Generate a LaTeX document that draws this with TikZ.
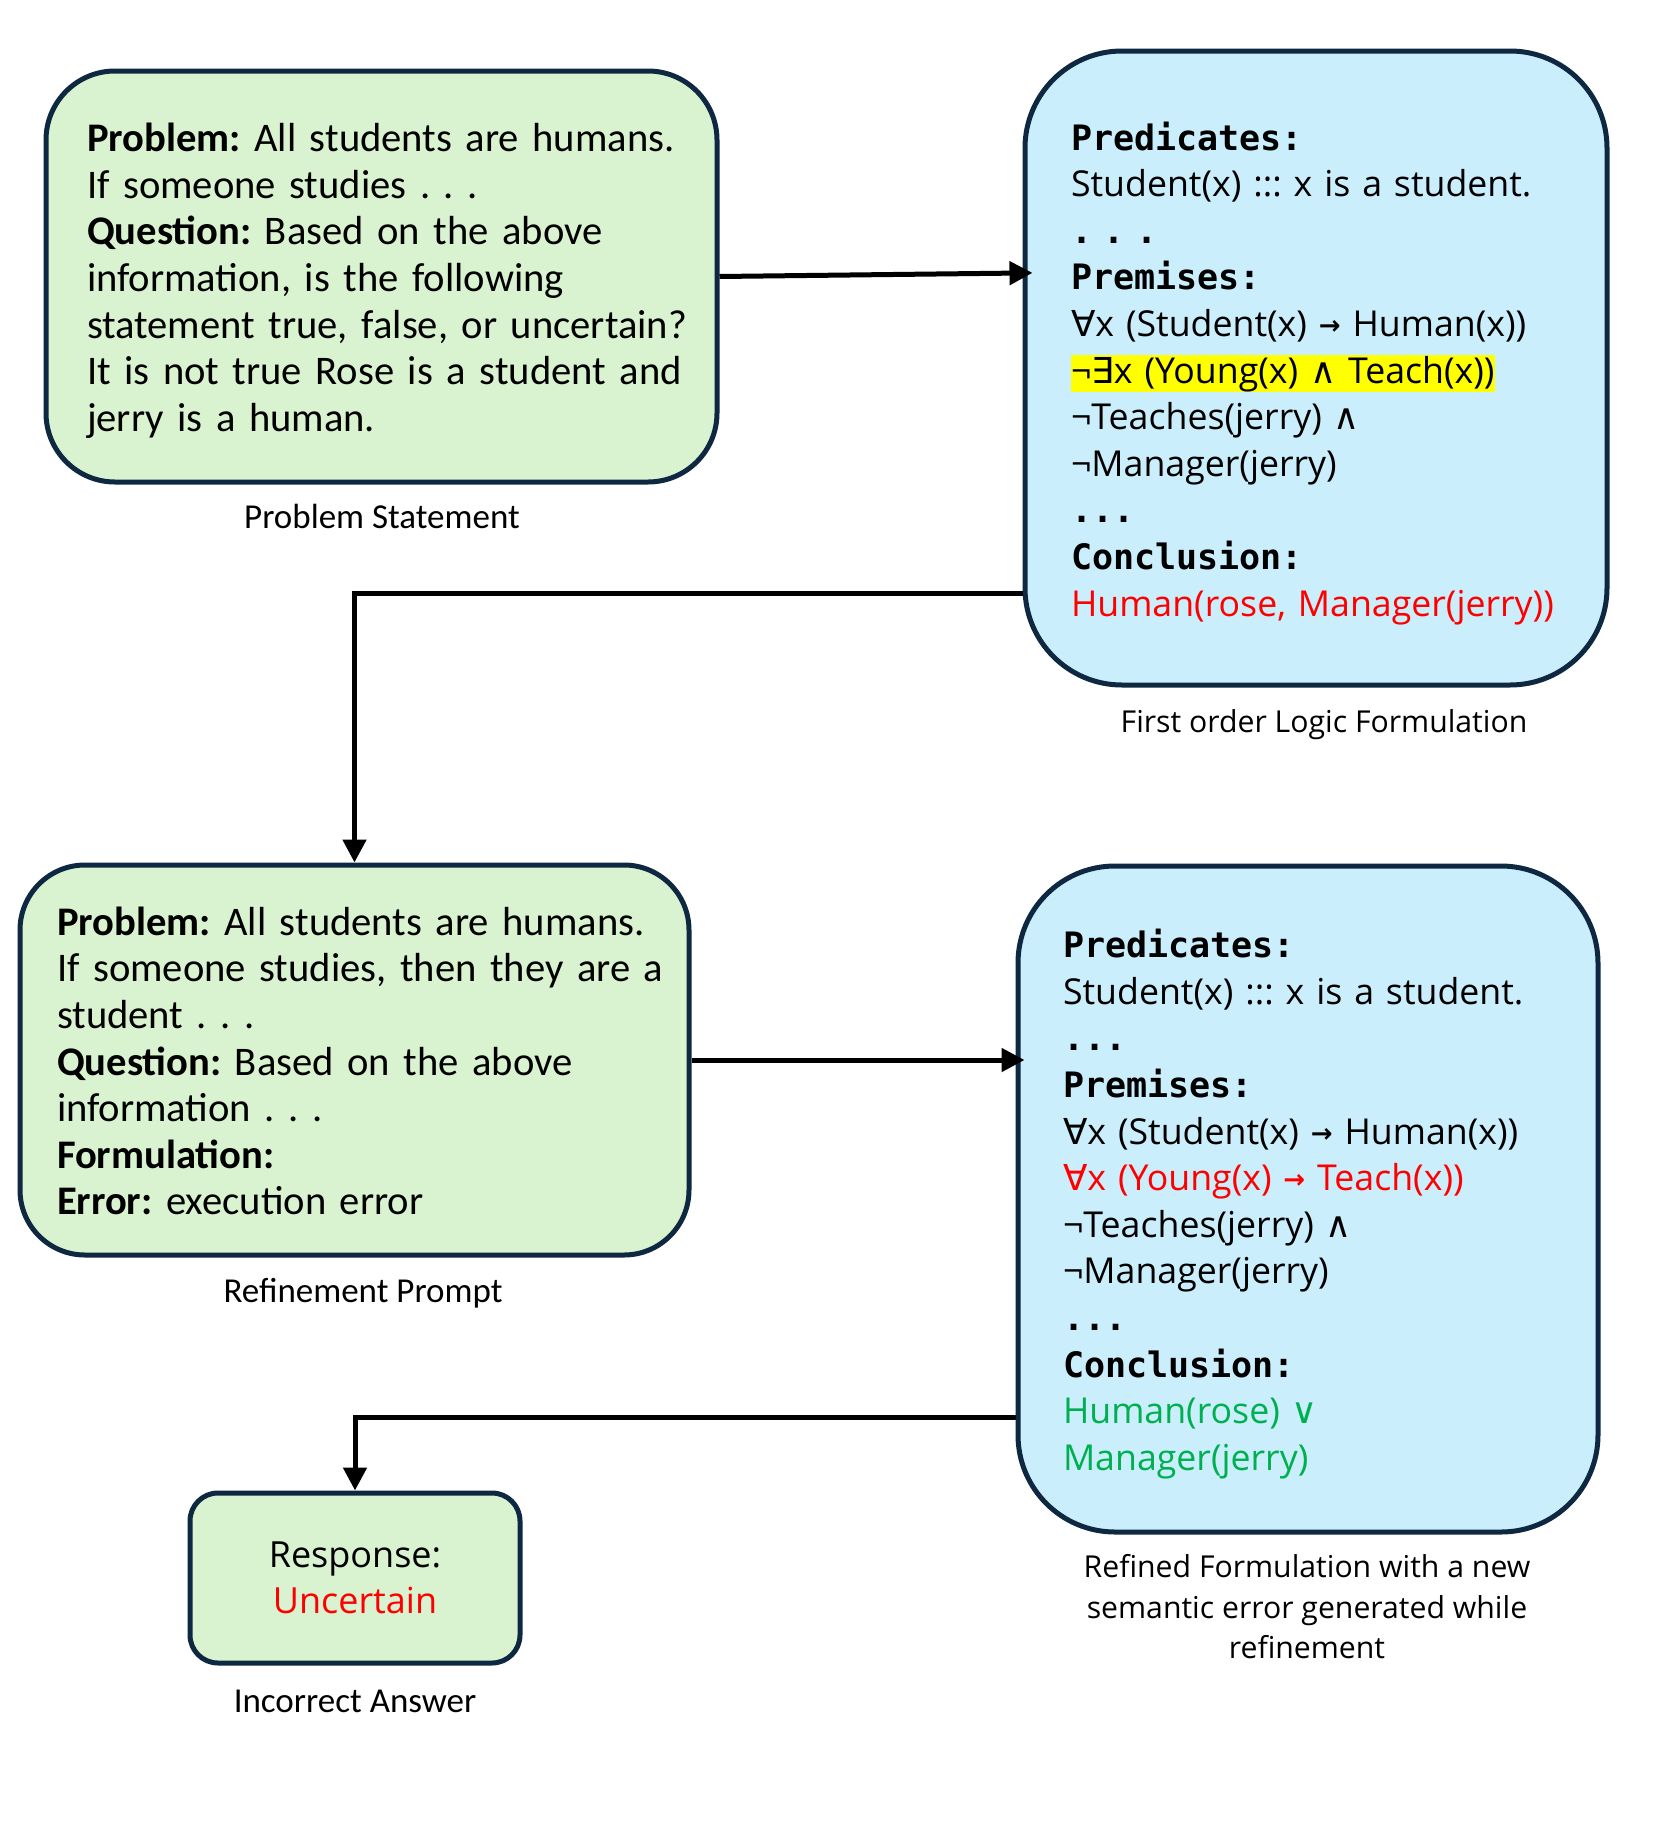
\documentclass[tikz,border=0pt]{standalone}
\usepackage{fontspec}
\setmainfont{Open Sans}
\newfontfamily\greenf{Carlito}
\newfontfamily\monof{DejaVu Sans Mono}
\newfontfamily\symf{DejaVu Sans}
\usetikzlibrary{arrows.meta}
\definecolor{navy}{HTML}{0E2841}
\definecolor{gfill}{HTML}{D9F2D0}
\definecolor{bfill}{HTML}{CAEEFB}
\definecolor{okgreen}{HTML}{00B050}
\definecolor{hlyellow}{HTML}{FFFF00}
\frenchspacing
\newsavebox\hlsave
\newcommand\hlmark[1]{\savebox\hlsave{#1}\rlap{\color{hlyellow}\rule[-9pt]{\wd\hlsave}{37pt}}\usebox\hlsave}
\newcommand\mhead[1]{{\fontsize{35}{46.6}\selectfont\monof\bfseries #1}}
\newcommand\sy[1]{{\symf #1}}
\newcommand\arr{\raisebox{2pt}{\fontsize{26}{26}\selectfont\symf\bfseries →}}
\newcommand\topfix{\rule{0pt}{44pt}}
\tikzset{
  box/.style={draw=navy, line width=5pt, inner sep=0pt, outer sep=2.5pt},
  gbox/.style={box, fill=gfill, font=\greenf\fontsize{40.6}{46.6}\selectfont, align=left},
  bbox/.style={box, fill=bfill, font=\fontsize{35.7}{46.6}\selectfont, align=left},
  rbox/.style={box, fill=gfill, font=\fontsize{36}{46.6}\selectfont, align=center},
  gcap/.style={inner sep=0pt, font=\greenf\fontsize{35}{40}\selectfont},
  bcap/.style={inner sep=0pt, font=\fontsize{30.2}{40.5}\selectfont},
  conn/.style={line width=5pt, -{Triangle[length=23pt,width=23pt]}}
}
\begin{document}
\begin{tikzpicture}[x=1pt,y=-1pt]
\fill[white] (0,0) rectangle (1659,1826);
\useasboundingbox (0,0) rectangle (1659,1826);

\node[gbox, rounded corners=69pt, minimum width=671pt, minimum height=411pt, text width=589pt] (b1) at (381.5,276.5) {%
\begin{tabular}{@{}l@{}}
\topfix\textbf{Problem:} All students are humans.\\
If someone studies . . .\\
\textbf{Question:} Based on the above\\
information, is the following\\
statement true, false, or uncertain?\\
It is not true Rose is a student and\\
jerry is a human.
\end{tabular}};

\node[bbox, rounded corners=97pt, minimum width=582pt, minimum height=634pt, text width=490pt] (b2) at (1316,368) {%
\begin{tabular}{@{}l@{}}
\topfix\mhead{Predicates:}\\
Student(x) ::: x is a student.\\
\mhead{. . .}\\
\mhead{Premises:}\\
\sy{∀}x (Student(x) \arr{} Human(x))\\
\hlmark{¬\sy{∃}x (Young(x) \sy{∧} Teach(x))}\\
¬Teaches(jerry) \sy{∧}\\
¬Manager(jerry)\\
\mhead{...}\\
\mhead{Conclusion:}\\
\textcolor{red}{Human(rose, Manager(jerry))}
\end{tabular}};

\node[gbox, rounded corners=65pt, minimum width=669pt, minimum height=390pt, text width=595pt] (b3) at (354.5,1060) {%
\begin{tabular}{@{}l@{}}
\topfix\textbf{Problem:} All students are humans.\\
If someone studies, then they are a\\
student . . .\\
\textbf{Question:} Based on the above\\
information . . .\\
\textbf{Formulation:}\\
\textbf{Error:} execution error
\end{tabular}};

\node[bbox, rounded corners=97pt, minimum width=580pt, minimum height=666pt, text width=490pt] (b4) at (1308,1199) {%
\begin{tabular}{@{}l@{}}
\topfix\mhead{Predicates:}\\
Student(x) ::: x is a student.\\
\mhead{...}\\
\mhead{Premises:}\\
\sy{∀}x (Student(x) \arr{} Human(x))\\
\textcolor{red}{\sy{∀}x (Young(x) \arr{} Teach(x))}\\
¬Teaches(jerry) \sy{∧}\\
¬Manager(jerry)\\
\mhead{...}\\
\mhead{Conclusion:}\\
\textcolor{okgreen}{Human(rose) \sy{∨}}\\
\textcolor{okgreen}{Manager(jerry)}
\end{tabular}};

\node[rbox, rounded corners=28pt, minimum width=330pt, minimum height=170pt] (b5) at (355,1578) {Response:\\\textcolor{red}{Uncertain}};

\node[gcap] (c1) at (382,516) {Problem Statement};
\node[bcap] (c2) at (1324,725) {First order Logic Formulation};
\node[gcap] (c3) at (363,1293) {Refinement Prompt};
\node[bcap, align=center] (c4) at (1307,1607) {Refined Formulation with a new\\semantic error generated while\\refinement};
\node[gcap] (c5) at (355,1701) {Incorrect Answer};

\draw[conn, shorten >=-10pt] (b1.east) -- ([yshift=95pt]b2.west);
\draw[conn] ([yshift=-225pt]b2.west) -| (b3.north);
\draw[conn, shorten >=-9pt] (b3.east) -- (b3.east -| b4.west);
\draw[conn] ([yshift=-218pt]b4.west) -| (b5.north);
\end{tikzpicture}
\end{document}
